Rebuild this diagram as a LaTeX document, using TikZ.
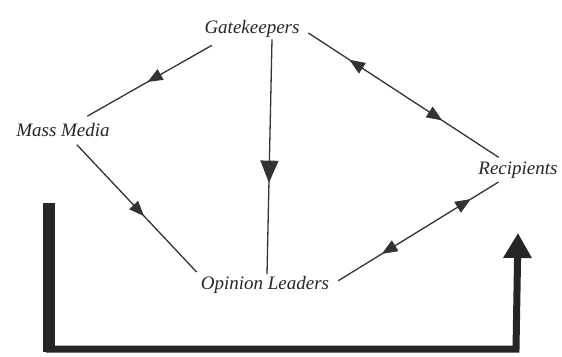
\documentclass[tikz,border=0pt]{standalone}
\usepackage{fontspec}
\setmainfont{Liberation Serif}
\usepackage{tikz}
\usetikzlibrary{arrows.meta,calc,positioning,decorations.markings}
\definecolor{inkgray}{rgb}{0.2,0.2,0.2}
\tikzset{
    actor/.style={inner sep=2pt, text=black!85, font=\fontsize{19}{22}\selectfont\itshape},
    flow/.style={draw=inkgray, line width=1.3pt},
    midarrow/.style={postaction={decorate}, decoration={markings,
        mark=at position #1 with {\arrow{Triangle[length=15pt,width=12pt]}}}},
    backarrow/.style={postaction={decorate}, decoration={markings,
        mark=at position #1 with {\arrowreversed{Triangle[length=15pt,width=12pt]}}}},
    bigarrow/.style={postaction={decorate}, decoration={markings,
        mark=at position #1 with {\arrow{Triangle[length=22pt,width=18pt]}}}},
}
\begin{document}
\begin{tikzpicture}[x=1pt, y=-1pt]
                \useasboundingbox (0,0) rectangle (562,356);
                \fill[white] (0,0) rectangle (562,356);
                \coordinate (fbtop) at (49,203);
                \coordinate (fbcorner) at (49,352);
                \coordinate (fbleft) at (46,349);
                \coordinate (fbright) at (516,349);
                \coordinate (fbtip) at (518,233);
                \node[actor] (gk) at (252,28.6) {Gatekeepers};
                \node[actor] (mm) at (63,130) {Mass Media};
                \node[actor] (rc) at (518,170) {Recipients};
                \node[actor] (ol) at (265,285) {Opinion Leaders};
                \draw[flow, midarrow=0.52, shorten <=12pt, shorten >=10pt] (gk.200) -- (mm);
                \draw[flow, bigarrow=0.61] ([xshift=20pt]gk.south) -- ([xshift=2pt]ol.north);
                \draw[flow, backarrow=0.24, midarrow=0.7, shorten <=8pt, shorten >=4pt] (gk.east) -- (rc);
                \draw[flow, midarrow=0.57, shorten <=8pt, shorten >=3pt] (mm) -- (ol.north west);
                \draw[flow, backarrow=0.3, midarrow=0.82, shorten <=8pt, shorten >=3pt] (ol.east) -- (rc);
                \draw[line width=12pt, draw=black!85] (fbtop) -- (fbcorner);
                \draw[line width=7pt, draw=black!85, line join=miter, -{Triangle[length=25pt,width=27pt]}] (fbleft) -- (fbright) -- (fbtip);
            \end{tikzpicture}
\end{document}
